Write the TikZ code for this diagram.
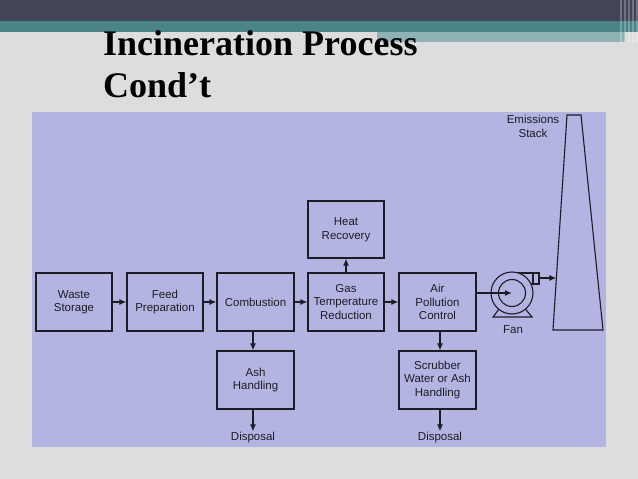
\documentclass[tikz,border=0pt]{standalone}
\usepackage{fontspec}
\setmainfont{Liberation Serif}
\newfontfamily\boxfont{Liberation Sans}
\usetikzlibrary{arrows.meta}
\definecolor{bggray}{RGB}{221,221,221}
\definecolor{topbar}{RGB}{66,68,88}
\definecolor{tealband}{RGB}{74,132,137}
\definecolor{lightteal}{RGB}{143,178,181}
\definecolor{panel}{RGB}{180,180,226}
\definecolor{ink}{RGB}{28,28,36}
\begin{document}
\begin{tikzpicture}[x=1pt,y=-1pt,
  box/.style={draw=ink, line width=1.2pt, fill=panel, minimum width=76pt, minimum height=58pt,
    inner sep=1pt, align=center, text=ink, font=\boxfont\fontsize{11.5}{13.5}\selectfont},
  lbl/.style={inner sep=1pt, align=center, text=ink, font=\boxfont\fontsize{11.5}{13.5}\selectfont},
  flow/.style={draw=ink, line width=1.5pt, -{Latex[length=7pt,width=6pt]}},
  part/.style={draw=ink, line width=1.1pt, fill=panel},
  title/.style={anchor=base west, inner sep=0pt, text=black, font=\bfseries\fontsize{36}{40}\selectfont}]
\useasboundingbox (0,0) rectangle (638,479);
\fill[bggray] (0,0) rectangle (638,479);
% header bars
\fill[topbar] (0,0) rectangle (638,21);
\fill[tealband] (0,21) rectangle (638,32);
\fill[lightteal] (377,32) rectangle (625,42);
\foreach \sx in {620,624,628,632,636}
  \fill[white,opacity=0.25] (\sx,0) rectangle (\sx+1.5,43);
% title
\node[title] (t1) at (103,55) {Incineration Process};
\node[title] (t2) at (103,97) {Cond’t};
% panel
\fill[panel] (32,112) rectangle (606,447);
% boxes
\node[box] (waste) at (74,302) {Waste\\Storage};
\node[box] (feed) at (165,302) {Feed\\Preparation};
\node[box, minimum width=77pt] (comb) at (255.5,302) {Combustion};
\node[box] (gas) at (346,302) {Gas\\Temperature\\Reduction};
\node[box, minimum height=57pt] (heat) at (346,229.5) {Heat\\Recovery};
\node[box, minimum width=77pt] (apc) at (437.5,302) {Air\\Pollution\\Control};
\node[box, minimum width=77pt] (ash) at (255.5,380) {Ash\\Handling};
\node[box, minimum width=77pt] (scrub) at (437.5,380) {Scrubber\\Water or Ash\\Handling};
\node[lbl] (disp1) at (253,438) {Disposal};
\node[lbl] (disp2) at (440,438) {Disposal};
% stack
\draw[part] (567,115) coordinate (stl) -- (581,115) -- (603,330) -- (553,330) coordinate (sbl) -- cycle;
\node[lbl, anchor=center] (emis) at (533,126.5) {Emissions\\Stack};
\coordinate (stackin) at (556.4,278);
% fan
\coordinate (fanc) at (512,293);
\draw[part] (493,317) -- (532,317) -- (522,305) -- (502,305) -- cycle;
\draw[part] (512,273) -- (539,273) -- (539,284) -- (512,284) -- cycle;
\draw[ink, line width=1.1pt] (533,273) -- (533,284);
\draw[part] (fanc) circle[radius=21pt];
\draw[ink, line width=1.1pt] (fanc) circle[radius=13.5pt];
\coordinate (fanout) at (539,278);
\node[lbl] (fanlbl) at (513,330) {Fan};
% connectors
\draw[flow] (waste.east) -- (feed.west);
\draw[flow] (feed.east) -- (comb.west);
\draw[flow] (comb.east) -- (gas.west);
\draw[flow] (gas.east) -- (apc.west);
\draw[flow] (gas.north) -- (heat.south);
\draw[flow] (comb.south -| disp1) -- (ash.north -| disp1);
\draw[flow] (ash.south -| disp1) -- (disp1.north);
\draw[flow] (apc.south -| disp2) -- (scrub.north -| disp2);
\draw[flow] (scrub.south -| disp2) -- (disp2.north);
\draw[flow] (apc.east |- fanc) -- (fanc);
\draw[flow] (fanout) -- (stackin);
\end{tikzpicture}
\end{document}
